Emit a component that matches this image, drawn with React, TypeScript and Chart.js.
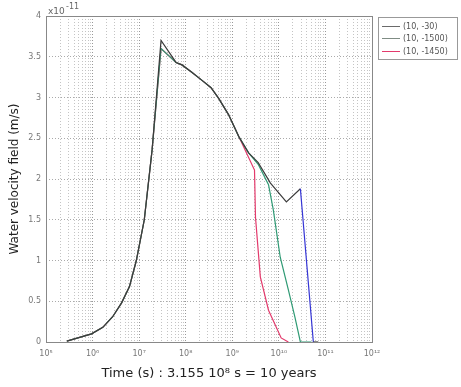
import React, { useEffect, useRef } from "react";
import { Chart, registerables } from "chart.js";

Chart.register(...registerables);

// Time (s) and water velocity (x1e-11 m/s) for each probe
const timeA = [2.8e5, 9.5e5, 1.66e6, 2.7e6, 4.2e6, 6.2e6, 8.7e6, 1.29e7, 1.9e7, 2.95e7, 6.2e7, 8.3e7, 1.35e8, 2.24e8, 3.5e8, 5.1e8, 8.3e8, 1.38e9, 2.24e9, 3.6e9, 6.6e9, 1.45e10, 2.9e10, 5.5e10, 7.0e10];
const velA = [0.01, 0.1, 0.18, 0.31, 0.48, 0.68, 1.0, 1.5, 2.36, 3.7, 3.43, 3.4, 3.31, 3.21, 3.12, 2.99, 2.79, 2.52, 2.32, 2.2, 1.95, 1.72, 1.88, 0, 0];

const timeB = [2.8e5, 9.5e5, 1.66e6, 2.7e6, 4.2e6, 6.2e6, 8.7e6, 1.29e7, 1.9e7, 2.95e7, 6.2e7, 8.3e7, 1.35e8, 2.24e8, 3.5e8, 5.1e8, 8.3e8, 1.38e9, 2.24e9, 3.6e9, 6.0e9, 7.6e9, 1.07e10, 1.6e10, 2.2e10, 2.9e10, 5.0e10];
const velB = [0.01, 0.1, 0.18, 0.31, 0.48, 0.68, 1.0, 1.5, 2.36, 3.6, 3.43, 3.4, 3.31, 3.21, 3.12, 2.99, 2.79, 2.52, 2.32, 2.18, 1.93, 1.62, 1.04, 0.64, 0.31, 0, 0];

const timeC = [2.8e5, 9.5e5, 1.66e6, 2.7e6, 4.2e6, 6.2e6, 8.7e6, 1.29e7, 1.9e7, 2.95e7, 6.2e7, 8.3e7, 1.35e8, 2.24e8, 3.5e8, 5.1e8, 8.3e8, 1.38e9, 3.0e9, 3.15e9, 4.0e9, 6.0e9, 1.12e10, 1.6e10];
const velC = [0.01, 0.1, 0.18, 0.31, 0.48, 0.68, 1.0, 1.5, 2.36, 3.6, 3.43, 3.4, 3.31, 3.21, 3.12, 2.99, 2.79, 2.52, 2.11, 1.53, 0.8, 0.39, 0.05, 0];

const seriesLabels = ["(10, -30)", "(10, -1500)", "(10, -1450)"];
const yTicks = [0, 0.5, 1, 1.5, 2, 2.5, 3, 3.5, 4];
const decades = [5, 6, 7, 8, 9, 10, 11, 12];

const SUP: Record<string, string> = { "0": "⁰", "1": "¹", "2": "²", "3": "³", "4": "⁴", "5": "⁵", "6": "⁶", "7": "⁷", "8": "⁸", "9": "⁹", "-": "⁻" };
const sup = (s: string) => s.split("").map((c) => SUP[c] || c).join("");

const toPts = (xs: number[], ys: number[]) => xs.map((x, i) => ({ x, y: ys[i] }));

const boxPlugin = {
  id: "boxPlugin",
  afterDraw(chart: any) {
    const { ctx, chartArea } = chart;
    ctx.save();
    ctx.strokeStyle = "#888";
    ctx.lineWidth = 1;
    ctx.strokeRect(chartArea.left + 0.5, chartArea.top + 0.5, chartArea.right - chartArea.left, chartArea.bottom - chartArea.top);
    ctx.fillStyle = "#666";
    ctx.font = "9px 'DejaVu Sans'";
    ctx.textBaseline = "alphabetic";
    ctx.fillText("x10", chartArea.left + 2, chartArea.top - 2);
    ctx.font = "8px 'DejaVu Sans'";
    ctx.fillText("-11", chartArea.left + 20, chartArea.top - 7);
    ctx.restore();
  },
};

export default function App() {
  const ref = useRef<HTMLCanvasElement>(null);
  useEffect(() => {
    if (!ref.current) return;
    const xTickVals: number[] = [];
    decades.forEach((d) => {
      if (d === 12) xTickVals.push(1e12);
      else for (let n = 1; n <= 9; n++) xTickVals.push(n * Math.pow(10, d));
    });
    const isDecade = (v: number) => Math.abs(Math.log10(v) - Math.round(Math.log10(v))) < 1e-9;
    const chart = new Chart(ref.current, {
      type: "line",
      data: {
        datasets: [
          {
            label: seriesLabels[0],
            data: toPts(timeA, velA),
            borderColor: "#3c3c3c",
            borderWidth: 1.2,
            pointRadius: 0,
            segment: {
              borderColor: (c: any) => (c.p0.parsed.y > 1 && c.p1.parsed.y === 0 ? "#3535d5" : "#3c3c3c"),
            },
          },
          {
            label: seriesLabels[1],
            data: toPts(timeB, velB),
            borderColor: "#2f9a74",
            borderWidth: 1.2,
            pointRadius: 0,
          },
          {
            label: seriesLabels[2],
            data: toPts(timeC, velC),
            borderColor: "#e33a6c",
            borderWidth: 1.2,
            pointRadius: 0,
          },
        ],
      },
      options: {
        animation: false,
        responsive: false,
        layout: { padding: { left: 8, right: 89, top: 16, bottom: 0 } },
        plugins: { legend: { display: false }, tooltip: { enabled: false } },
        scales: {
          x: {
            type: "logarithmic",
            min: 1e5,
            max: 1e12,
            afterBuildTicks: (axis: any) => {
              axis.ticks = xTickVals.map((v) => ({ value: v }));
            },
            afterFit: (axis: any) => {
              axis.height = 45;
            },
            ticks: {
              autoSkip: false,
              maxRotation: 0,
              color: "#777",
              font: { family: "'DejaVu Sans'", size: 8 },
              padding: 7,
              callback: (v: any) => (isDecade(Number(v)) ? "10" + sup(String(Math.round(Math.log10(Number(v))))) : ""),
            },
            grid: {
              color: (c: any) => (c.tick && isDecade(c.tick.value) ? "#999" : "#c4c4c4"),
              lineWidth: 1,
              drawTicks: false,
            },
            border: { display: false, dash: [1, 2] },
            title: {
              display: true,
              text: "Time (s) : 3.155 10" + sup("8") + " s = 10 years",
              color: "#222",
              font: { family: "'DejaVu Sans'", size: 13 },
              padding: { top: 2, bottom: 6 },
            },
          },
          y: {
            type: "linear",
            min: 0,
            max: 4,
            afterBuildTicks: (axis: any) => {
              axis.ticks = yTicks.map((v) => ({ value: v }));
            },
            afterFit: (axis: any) => {
              axis.width = 38;
            },
            ticks: {
              color: "#777",
              font: { family: "'DejaVu Sans'", size: 8 },
              padding: 5,
              callback: (v: any) => String(v),
            },
            grid: { color: "#aaa", lineWidth: 1, drawTicks: false },
            border: { display: false, dash: [1, 2] },
            title: {
              display: true,
              text: "Water velocity field (m/s)",
              color: "#222",
              font: { family: "'DejaVu Sans'", size: 12 },
              padding: { top: 0, bottom: 6 },
            },
          },
        },
      },
      plugins: [boxPlugin],
    } as any);
    return () => chart.destroy();
  }, []);

  const legendColors = ["#6a6a6a", "#7f8c84", "#e33a6c"];
  return (
    <div style={{ position: "absolute", left: 0, top: 0, width: 461, height: 387, background: "#fff" }}>
      <canvas ref={ref} width={461} height={387} />
      <div
        style={{
          position: "absolute",
          left: 378,
          top: 17,
          width: 80,
          height: 43,
          border: "1px solid #999",
          boxSizing: "border-box",
          fontFamily: "'DejaVu Sans'",
          fontSize: 8,
          color: "#555",
          paddingTop: 2,
        }}
      >
        {seriesLabels.map((l, i) => (
          <div key={i} style={{ display: "flex", alignItems: "center", height: 12.5 }}>
            <div style={{ width: 18, height: 1, background: legendColors[i], marginLeft: 3, marginRight: 3 }} />
            <span>{l}</span>
          </div>
        ))}
      </div>
    </div>
  );
}
